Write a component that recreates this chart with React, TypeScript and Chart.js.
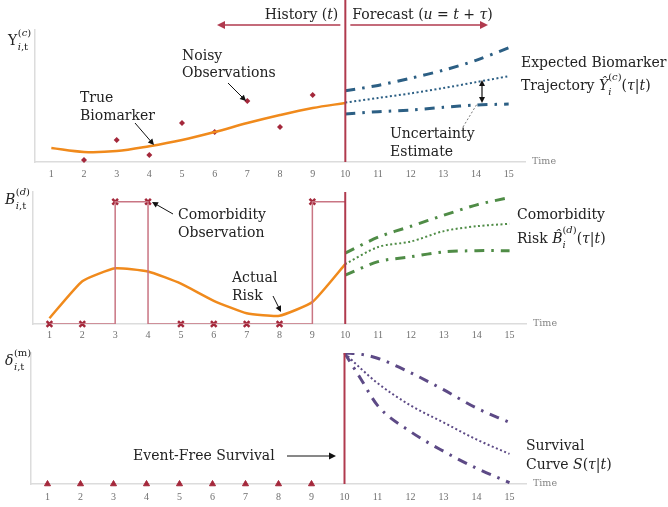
import React, { useEffect, useRef } from 'react';
import { Chart, registerables } from 'chart.js';
Chart.register(...registerables);

// ---------------- data ----------------
const tickLabels = [1, 2, 3, 4, 5, 6, 7, 8, 9, 10, 11, 12, 13, 14, 15];
const forecastOrigin = 10;
const historyTimes = [1, 2, 3, 4, 5, 6, 7, 8, 9, 10];
const forecastTimes = [10, 11, 12, 13, 14, 15];

// panel 1: biomarker
const biomarkerTrue = [1.06, 0.76, 0.83, 1.2, 1.67, 2.27, 2.95, 3.56, 4.09, 4.47];
const obsTimes = [2, 3, 4, 5, 6, 7, 8, 9];
const biomarkerObs = [0.15, 1.67, 0.53, 2.95, 2.27, 4.62, 2.65, 5.08];
const bioUpper = [5.4, 5.8, 6.35, 6.95, 7.7, 8.65];
const bioMean = [4.5, 4.85, 5.2, 5.6, 6.05, 6.5];
const bioLower = [3.64, 3.81, 3.94, 4.14, 4.32, 4.39];

// panel 2: comorbidity
const riskActual = [0.047, 0.35, 0.456, 0.43, 0.33, 0.19, 0.088, 0.068, 0.18, 0.49];
const comorbTimes = [1, 2, 3, 4, 5, 6, 7, 8, 9];
const comorbObs = [0, 0, 1, 1, 0, 0, 0, 0, 1];
const riskUpper = [0.58, 0.71, 0.8, 0.89, 0.975, 1.035];
const riskMean = [0.49, 0.63, 0.675, 0.76, 0.8, 0.82];
const riskLower = [0.4, 0.51, 0.55, 0.59, 0.6, 0.6];

// panel 3: survival
const eventTimes = [1, 2, 3, 4, 5, 6, 7, 8, 9];
const eventObs = [0, 0, 0, 0, 0, 0, 0, 0, 0];
const survTimes = [10, 10.5, 11, 12, 13, 14, 15];
const survUpper = [1, 0.99, 0.96, 0.85, 0.72, 0.58, 0.47];
const survMean = [1, 0.88, 0.77, 0.6, 0.47, 0.34, 0.23];
const survLower = [1, 0.8, 0.6, 0.4, 0.25, 0.12, 0.01];

// ---------------- styles ----------------
const W = 668;
const SERIF = '"DejaVu Serif"';
const RED = '#b03a4e';
const PINK = '#c97583';
const MARK = '#a4283b';
const ORANGE = '#f08a1c';
const BLUE = '#2c5f84';
const GREEN = '#4f8c46';
const PURPLE = '#5d4a86';
const AXIS = '#dcdcdc';
const TEXT = '#222';
const DASHDOT = [10, 7, 2.5, 7];
const DOT = [2, 2.5];

const pts = (xs: number[], ys: number[]) => xs.map((x, i) => ({ x, y: ys[i] }));

function stepPoints(xs: number[], ys: number[], endX: number) {
  const out: { x: number; y: number }[] = [];
  for (let i = 0; i < xs.length; i++) {
    out.push({ x: xs[i], y: ys[i] });
    if (i < xs.length - 1 && ys[i] !== ys[i + 1]) {
      const cx = ys[i] > ys[i + 1] ? xs[i] : xs[i + 1];
      out.push({ x: cx, y: Math.min(ys[i], ys[i + 1]) });
    }
  }
  out.push({ x: endX, y: ys[ys.length - 1] });
  return out;
}

type Seg = { t: string; i?: boolean; s?: number; dy?: number; k?: boolean };

function fnt(size: number, italic?: boolean) {
  return `${italic ? 'italic ' : ''}${size}px ${SERIF}`;
}
function segWidth(ctx: CanvasRenderingContext2D, segs: Seg[], size: number) {
  let w = 0;
  for (const g of segs) {
    if (g.k) continue;
    ctx.font = fnt(g.s ?? size, g.i);
    w += ctx.measureText(g.t).width;
  }
  return w;
}
function rich(ctx: CanvasRenderingContext2D, x: number, y: number, segs: Seg[], align = 'left', size = 14, color = TEXT) {
  ctx.fillStyle = color;
  ctx.textBaseline = 'middle';
  ctx.textAlign = 'left';
  let cx = align === 'right' ? x - segWidth(ctx, segs, size) : x;
  for (const g of segs) {
    ctx.font = fnt(g.s ?? size, g.i);
    ctx.fillText(g.t, cx, y + (g.dy ?? 0));
    if (!g.k) cx += ctx.measureText(g.t).width;
  }
}
function subsup(ctx: CanvasRenderingContext2D, x: number, y: number, base: Seg[], sub: Seg[], sup: Seg[]) {
  rich(ctx, x, y, base);
  const w = segWidth(ctx, base, 14);
  rich(ctx, x + w + 0.5, y + 6, sub, 'left', 10);
  rich(ctx, x + w + 0.5, y - 8, sup, 'left', 10);
}
function arrow(ctx: CanvasRenderingContext2D, x1: number, y1: number, x2: number, y2: number,
  color = '#111', width = 1, head = 6, both = false, dash?: number[]) {
  ctx.save();
  ctx.strokeStyle = color;
  ctx.fillStyle = color;
  ctx.lineWidth = width;
  const a = Math.atan2(y2 - y1, x2 - x1);
  const sh = head > 0 ? head * 0.7 : 0;
  ctx.beginPath();
  if (dash) ctx.setLineDash(dash);
  ctx.moveTo(x1 + (both ? Math.cos(a) * sh : 0), y1 + (both ? Math.sin(a) * sh : 0));
  ctx.lineTo(x2 - Math.cos(a) * sh, y2 - Math.sin(a) * sh);
  ctx.stroke();
  ctx.setLineDash([]);
  const tip = (x: number, y: number, ang: number) => {
    const w = head * 0.5;
    ctx.beginPath();
    ctx.moveTo(x, y);
    ctx.lineTo(x - head * Math.cos(ang) + w * Math.sin(ang), y - head * Math.sin(ang) - w * Math.cos(ang));
    ctx.lineTo(x - head * Math.cos(ang) - w * Math.sin(ang), y - head * Math.sin(ang) + w * Math.cos(ang));
    ctx.closePath();
    ctx.fill();
  };
  if (head > 0) {
    tip(x2, y2, a);
    if (both) tip(x1, y1, a + Math.PI);
  }
  ctx.restore();
}
function vline(ctx: CanvasRenderingContext2D, x: number, y1: number, y2: number, color: string, width: number) {
  ctx.save();
  ctx.strokeStyle = color;
  ctx.lineWidth = width;
  ctx.beginPath();
  ctx.moveTo(x, y1);
  ctx.lineTo(x, y2);
  ctx.stroke();
  ctx.restore();
}

type PanelDef = {
  top: number;
  height: number;
  left: number;
  right: number;
  axisH: number;
  tickPad: number;
  yMax: number;
  datasets: any[];
  draw: (ctx: CanvasRenderingContext2D, area: any, xPix: (v: number) => number, off: number) => void;
};

function lineDs(data: any[], color: string, dash: number[] | undefined, width: number, extra: any = {}) {
  return {
    data,
    borderColor: color,
    backgroundColor: color,
    borderWidth: width,
    borderDash: dash ?? [],
    pointRadius: 0,
    fill: false,
    ...extra,
  };
}

const panels: PanelDef[] = [
  {
    top: 0, height: 184, left: 35, right: 525, axisH: 22, tickPad: 6, yMax: 10,
    datasets: [
      lineDs(pts(historyTimes, biomarkerTrue), ORANGE, undefined, 2.5, { tension: 0.35 }),
      lineDs(pts(obsTimes, biomarkerObs), MARK, undefined, 0, { showLine: false, pointRadius: 3, pointStyle: 'rectRot', clip: false }),
      lineDs(pts(forecastTimes, bioUpper), BLUE, DASHDOT, 3, { tension: 0.3 }),
      lineDs(pts(forecastTimes, bioMean), BLUE, DOT, 2, { tension: 0.3 }),
      lineDs(pts(forecastTimes, bioLower), BLUE, DASHDOT, 3, { tension: 0.3 }),
    ],
    draw: (ctx, area, xPix, off) => {
      const xf = xPix(forecastOrigin);
      vline(ctx, xf, 0, area.bottom + off, RED, 2);
      arrow(ctx, xf - 5, 25, 217, 25, RED, 1.5, 8);
      arrow(ctx, xf + 5, 25, 488, 25, RED, 1.5, 8);
      rich(ctx, xf - 7, 15, [{ t: 'History (' }, { t: 't', i: true }, { t: ')' }], 'right');
      rich(ctx, xf + 7, 15, [{ t: 'Forecast (' }, { t: 'u', i: true }, { t: ' = ' }, { t: 't', i: true }, { t: ' + ' }, { t: 'τ', i: true }, { t: ')' }]);
      // y label
      subsup(ctx, 8, 41, [{ t: 'Y' }], [{ t: 'i', i: true }, { t: ',t' }], [{ t: '(' }, { t: 'c', i: true }, { t: ')' }]);
      // annotations
      rich(ctx, 182, 56, [{ t: 'Noisy' }]);
      rich(ctx, 182, 73, [{ t: 'Observations' }]);
      arrow(ctx, 228, 83, 246, 101, '#111', 1, 6);
      rich(ctx, 80, 98, [{ t: 'True' }]);
      rich(ctx, 80, 116, [{ t: 'Biomarker' }]);
      arrow(ctx, 135, 123, 154, 145, '#111', 1, 6);
      rich(ctx, 521, 63, [{ t: 'Expected Biomarker' }]);
      rich(ctx, 521, 86, [{ t: 'Trajectory ' }, { t: 'Ŷ', i: true }, { t: 'i', i: true, s: 10, dy: 6, k: true },
        { t: '(', s: 10, dy: -9 }, { t: 'c', i: true, s: 10, dy: -9 }, { t: ')', s: 10, dy: -9 },
        { t: '(' }, { t: 'τ', i: true }, { t: '|' }, { t: 't', i: true }, { t: ')' }]);
      rich(ctx, 390, 134, [{ t: 'Uncertainty' }]);
      rich(ctx, 390, 152, [{ t: 'Estimate' }]);
      arrow(ctx, 463, 127, 477, 104, '#777', 1, 0, false, [2, 2]);
      arrow(ctx, 482, 80, 482, 103, '#111', 1.2, 6, true);
    },
  },
  {
    top: 184, height: 161, left: 33, right: 526, axisH: 21, tickPad: 5, yMax: 1.08,
    datasets: [
      lineDs(stepPoints(comorbTimes, comorbObs, forecastOrigin), PINK, undefined, 1.5, { tension: 0 }),
      lineDs(pts(historyTimes, riskActual), ORANGE, undefined, 2.5, { tension: 0.15 }),
      lineDs(pts(comorbTimes, comorbObs), MARK, undefined, 2.5, { showLine: false, pointRadius: 4, pointStyle: 'crossRot', clip: false }),
      lineDs(pts(forecastTimes, riskUpper), GREEN, DASHDOT, 3, { tension: 0.3 }),
      lineDs(pts(forecastTimes, riskMean), GREEN, DOT, 2, { tension: 0.3 }),
      lineDs(pts(forecastTimes, riskLower), GREEN, DASHDOT, 3, { tension: 0.3 }),
    ],
    draw: (ctx, area, xPix, off) => {
      const xf = xPix(forecastOrigin);
      vline(ctx, xf, area.top + off, area.bottom + off, RED, 2);
      subsup(ctx, 5, 200, [{ t: 'B', i: true }], [{ t: 'i', i: true }, { t: ',t' }], [{ t: '(' }, { t: 'd', i: true }, { t: ')' }]);
      rich(ctx, 178, 215, [{ t: 'Comorbidity' }]);
      rich(ctx, 178, 233, [{ t: 'Observation' }]);
      arrow(ctx, 173, 214, 152, 202, '#111', 1, 6);
      rich(ctx, 232, 278, [{ t: 'Actual' }]);
      rich(ctx, 232, 296, [{ t: 'Risk' }]);
      arrow(ctx, 273, 296, 281, 312, '#111', 1, 6);
      rich(ctx, 517, 215, [{ t: 'Comorbidity' }]);
      rich(ctx, 517, 239, [{ t: 'Risk ' }, { t: 'B\u0302', i: true }, { t: 'i', i: true, s: 10, dy: 6, k: true },
        { t: '(', s: 10, dy: -9 }, { t: 'd', i: true, s: 10, dy: -9 }, { t: ')', s: 10, dy: -9 },
        { t: '(' }, { t: 'τ', i: true }, { t: '|' }, { t: 't', i: true }, { t: ')' }]);
    },
  },
  {
    top: 345, height: 162, left: 31, right: 526, axisH: 23, tickPad: 7, yMax: 1,
    datasets: [
      lineDs(pts(eventTimes, eventObs), MARK, undefined, 1, { showLine: false, pointRadius: 3.5, pointStyle: 'triangle', clip: false }),
      lineDs(pts(survTimes, survUpper), PURPLE, DASHDOT, 3, { cubicInterpolationMode: 'monotone' }),
      lineDs(pts(survTimes, survMean), PURPLE, DOT, 2, { cubicInterpolationMode: 'monotone' }),
      lineDs(pts(survTimes, survLower), PURPLE, DASHDOT, 3, { cubicInterpolationMode: 'monotone' }),
    ],
    draw: (ctx, area, xPix, off) => {
      const xf = xPix(forecastOrigin);
      vline(ctx, xf, area.top + off, area.bottom + off, RED, 2);
      subsup(ctx, 5, 361, [{ t: 'δ', i: true }], [{ t: 'i', i: true }, { t: ',t' }], [{ t: '(m)' }]);
      rich(ctx, 133, 456, [{ t: 'Event-Free Survival' }]);
      arrow(ctx, 287, 456, 336, 456, '#111', 1, 7);
      rich(ctx, 526, 446, [{ t: 'Survival' }]);
      rich(ctx, 526, 465, [{ t: 'Curve ' }, { t: 'S', i: true }, { t: '(' }, { t: 'τ', i: true }, { t: '|' }, { t: 't', i: true }, { t: ')' }]);
    },
  },
];

function makeConfig(p: PanelDef): any {
  return {
    type: 'line',
    data: { datasets: p.datasets },
    options: {
      animation: false,
      responsive: false,
      devicePixelRatio: 1,
      layout: { padding: { left: p.left, right: W - p.right, top: p.top === 0 ? 30 : 8, bottom: 0 } },
      plugins: { legend: { display: false }, tooltip: { enabled: false } },
      scales: {
        x: {
          type: 'linear',
          min: 0.5,
          max: 15.5,
          afterBuildTicks: (s: any) => { s.ticks = tickLabels.map((v) => ({ value: v })); },
          afterFit: (s: any) => { s.height = p.axisH; },
          grid: { display: false, drawTicks: false },
          border: { color: AXIS, width: 1.5 },
          ticks: {
            autoSkip: false, maxRotation: 0, padding: p.tickPad, color: '#6f6f6f',
            font: { size: 10, family: '"Liberation Serif"' },
            callback: (v: any) => String(v),
          },
        },
        y: {
          min: 0,
          max: p.yMax,
          afterFit: (s: any) => { s.width = 0; },
          grid: { display: false, drawTicks: false },
          ticks: { display: false },
          border: { color: AXIS, width: 1.5 },
        },
      },
    },
    plugins: [
      {
        id: 'annot' + p.top,
        afterDraw(chart: any) {
          const ctx = chart.ctx as CanvasRenderingContext2D;
          const area = chart.chartArea;
          const xs = chart.scales.x;
          ctx.save();
          ctx.translate(0, -p.top);
          p.draw(ctx, area, (v) => xs.getPixelForValue(v), p.top);
          rich(ctx, area.right + 7, area.bottom + p.top, [{ t: 'Time' }], 'left', 9.5, '#858585');
          ctx.restore();
        },
      },
    ],
  };
}

export default function App() {
  const r1 = useRef<HTMLCanvasElement>(null);
  const r2 = useRef<HTMLCanvasElement>(null);
  const r3 = useRef<HTMLCanvasElement>(null);
  useEffect(() => {
    const refs = [r1, r2, r3];
    const charts = panels.map((p, i) => new Chart(refs[i].current as HTMLCanvasElement, makeConfig(p)));
    return () => charts.forEach((c) => c.destroy());
  }, []);
  const refs = [r1, r2, r3];
  return (
    <div style={{ position: 'absolute', left: 0, top: 0, width: W, height: 507, background: '#fff', overflow: 'hidden' }}>
      {panels.map((p, i) => (
        <canvas
          key={i}
          ref={refs[i]}
          width={W}
          height={p.height}
          style={{ position: 'absolute', left: 0, top: p.top, width: W, height: p.height, display: 'block' }}
        />
      ))}
    </div>
  );
}
